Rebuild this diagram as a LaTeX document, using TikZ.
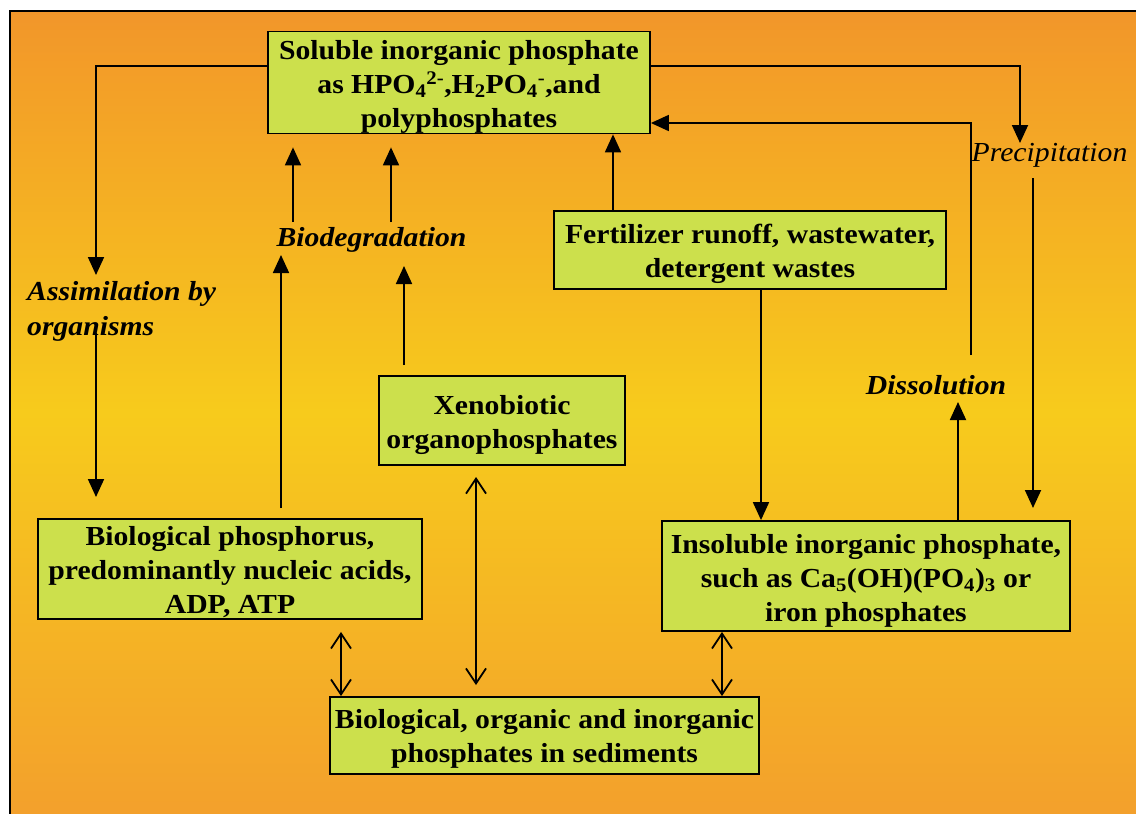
\documentclass[tikz,border=0pt]{standalone}
\usepackage{fontspec}
\setmainfont[FakeStretch=1.08]{Liberation Serif}
\usetikzlibrary{arrows.meta}
\definecolor{boxfill}{HTML}{CCE04C}
\definecolor{bgtop}{HTML}{F2962A}
\definecolor{bgmid}{HTML}{F7CB1C}
\definecolor{bgbot}{HTML}{F3A02C}
% taller first line, so the text block sits a little lower in its box
\newcommand\firstline{\rule{0pt}{28pt}}
\begin{document}
\begin{tikzpicture}[x=1pt,y=-1pt,
  box/.style={draw=black, line width=1.8pt, fill=boxfill, align=center,
    font=\fontsize{27.5}{34}\selectfont\bfseries, inner sep=0pt},
  lbl/.style={font=\fontsize{27.5}{35}\selectfont\bfseries\itshape, align=left, inner sep=0pt},
  lblthin/.style={font=\fontsize{27.5}{35}\selectfont\itshape, align=left, inner sep=0pt},
  flow/.style={line width=1.8pt, -{Triangle[length=18pt,width=16pt]}},
  swap/.style={line width=1.8pt,
    {Straight Barb[length=15pt,width=20pt]}-{Straight Barb[length=15pt,width=20pt]}}
]
% page and background panel
\useasboundingbox (0,0) rectangle (1136,814);
\fill[white] (0,0) rectangle (1136,814);
\shade[top color=bgtop, bottom color=bgbot, middle color=bgmid] (10,11) rectangle (1136,814);
\draw[line width=2pt] (10,814) -- (10,11) -- (1136,11);

% pools of phosphorus
\node[box, minimum width=382pt, minimum height=99pt] (sol) at (459,82.5)
  {\firstline Soluble inorganic phosphate\\
   as HPO\textsubscript{4}\textsuperscript{2-},H\textsubscript{2}PO\textsubscript{4}\textsuperscript{-},and\\
   polyphosphates};
\node[box, minimum width=392pt, minimum height=78pt] (fert) at (750,250)
  {\firstline Fertilizer runoff, wastewater,\\detergent wastes};
\node[box, minimum width=246pt, minimum height=89pt] (xeno) at (502,420.5)
  {\firstline Xenobiotic\\organophosphates};
\node[box, minimum width=384pt, minimum height=100pt] (bio) at (230,569)
  {\rule{0pt}{26pt}Biological phosphorus,\\predominantly nucleic acids,\\ADP, ATP};
\node[box, minimum width=408pt, minimum height=110pt] (ins) at (866,576)
  {\firstline Insoluble inorganic phosphate,\\
   such as Ca\textsubscript{5}(OH)(PO\textsubscript{4})\textsubscript{3} or\\
   iron phosphates};
\node[box, minimum width=429pt, minimum height=77pt] (sed) at (544.5,735.5)
  {\rule{0pt}{26pt}Biological, organic and inorganic\\phosphates in sediments};

% process labels
\node[lbl, anchor=west] (assim) at (27,311) {Assimilation by\\organisms};
\node[lbl] (biodeg) at (371.5,240) {Biodegradation};
\node[lblthin] (precip) at (1049.5,155) {Precipitation};
\node[lbl] (dissol) at (936,385) {Dissolution};

% free ends of the split connectors
\coordinate (aTip) at (96,275);
\coordinate (aRe) at (96,333);
\coordinate (aEnd) at (96,497);
\coordinate (bL1) at (281,508);
\coordinate (bL2) at (281,255);
\coordinate (bR1) at (404,365);
\coordinate (bR2) at (404,266);
\coordinate (bU1) at (293,222);
\coordinate (bU2) at (391,222);
\coordinate (fUp) at (613,0);
\coordinate (fDn) at (761,0);
\coordinate (dLo) at (958,402);
\coordinate (dHi) at (971,355);
\coordinate (pTip) at (1020,143);
\coordinate (pRe) at (1033,178);
\coordinate (pEnd) at (1033,508);
\coordinate (xBS) at (341,0);
\coordinate (xXS) at (476,0);
\coordinate (xIS) at (722,0);

% assimilation by organisms
\draw[flow] ([yshift=16.5pt]sol.west) -| (aTip);
\draw[flow] (aRe) -- (aEnd);

% biodegradation
\draw[flow] (bL1) -- (bL2);
\draw[flow] (bR1) -- (bR2);
\draw[flow] (bU1) -- ([yshift=-13pt]bU1 |- sol.south);
\draw[flow] (bU2) -- ([yshift=-13pt]bU2 |- sol.south);

% inputs from fertilizer and wastes
\draw[flow] (fert.north -| fUp) -- (sol.south -| fUp);
\draw[flow] (fert.south -| fDn) -- (ins.north -| fDn);

% dissolution
\draw[flow] (ins.north -| dLo) -- (dLo);
\draw[flow] (dHi) |- ([yshift=-40.5pt]sol.east);

% precipitation
\draw[flow] ([yshift=16.5pt]sol.east) -| (pTip);
\draw[flow] (pRe) -- (pEnd);

% exchange with sediments
\draw[swap] ([yshift=-12pt]bio.south -| xBS) -- (sed.north -| xBS);
\draw[swap] (xXS |- 0,477) -- (xXS |- 0,685);
\draw[swap] (ins.south -| xIS) -- (sed.north -| xIS);
\end{tikzpicture}
\end{document}
